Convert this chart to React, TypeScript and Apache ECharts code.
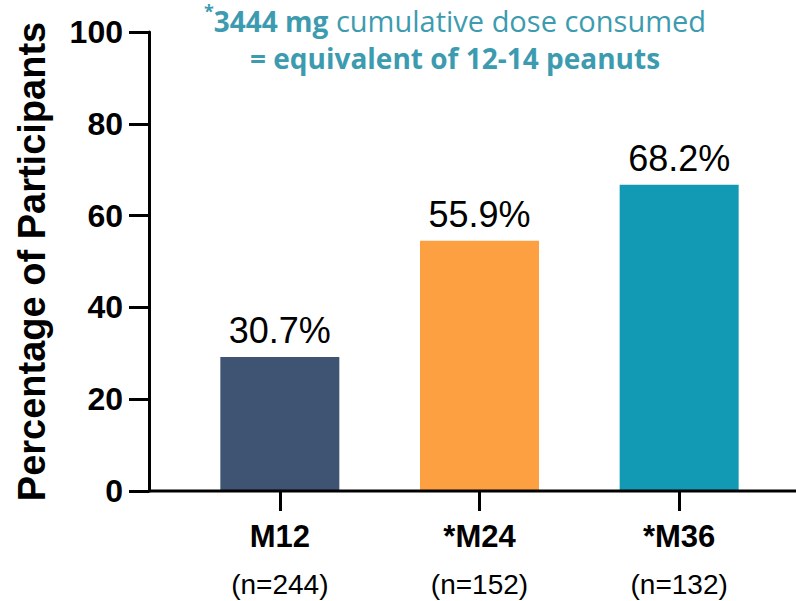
import React, { useEffect, useRef } from "react";
import * as echarts from "echarts";

const categories = ["M12", "*M24", "*M36"];
const sampleSizes = ["(n=244)", "(n=152)", "(n=132)"];
const barValues = [29.2, 54.5, 66.7];
const barLabels = ["30.7%", "55.9%", "68.2%"];
const barColors = ["#3e5472", "#fda042", "#129ab4"];
const yTicks = { min: 0, max: 100, interval: 20 };
const yTitle = "Percentage of Participants";
const titleLine1 = ["*", "3444 mg", " cumulative dose consumed"];
const titleLine2 = "= equivalent of 12-14 peanuts";

export default function App() {
  const ref = useRef<HTMLDivElement>(null);
  useEffect(() => {
    if (!ref.current) return;
    const chart = echarts.init(ref.current, undefined, { renderer: "svg" });
    const teal = "#3d9bb0";
    chart.setOption({
      animation: false,
      backgroundColor: "#ffffff",
      title: {
        left: 450,
        top: -3,
        textAlign: "center",
        text:
          `{s|${titleLine1[0]}}{b|${titleLine1[1]}}{n|${titleLine1[2]}}\n{b|${titleLine2}}`,
        textStyle: {
          rich: {
            s: { fontSize: 18, color: teal, fontFamily: "Open Sans", verticalAlign: "top", lineHeight: 37 },
            b: { fontSize: 28, fontWeight: "bold", color: teal, fontFamily: "Open Sans", lineHeight: 37 },
            n: { fontSize: 29, fontWeight: "normal", color: teal, fontFamily: "Open Sans", lineHeight: 37 },
          },
        },
      },
      grid: { left: 180, right: 17, top: 32, bottom: 110, containLabel: false },
      xAxis: {
        type: "category",
        data: categories,
        axisLine: { show: false },
        axisTick: { show: true, alignWithLabel: true, length: 20, lineStyle: { color: "#000", width: 3 } },
        axisLabel: {
          margin: 20,
          formatter: (v: string, i: number) => `{a|${v}}\n{b|${sampleSizes[i]}}`,
          rich: {
            a: { fontSize: 31, fontWeight: "bold", color: "#000", fontFamily: "Arial, Liberation Sans", lineHeight: 50 },
            b: { fontSize: 28, color: "#000", fontFamily: "Arial, Liberation Sans", lineHeight: 46 },
          },
        },
      },
      yAxis: {
        type: "value",
        min: yTicks.min,
        max: yTicks.max,
        interval: yTicks.interval,
        offset: 31,
        name: yTitle,
        nameLocation: "middle",
        nameGap: 98,
        nameTextStyle: { fontSize: 38, fontWeight: "bold", color: "#000", fontFamily: "Arial, Liberation Sans" },
        axisLine: { show: true, lineStyle: { color: "#000", width: 3 } },
        axisTick: { show: true, length: 20, lineStyle: { color: "#000", width: 3 } },
        axisLabel: { margin: 26, fontSize: 32, fontWeight: "bold", color: "#000", fontFamily: "Arial, Liberation Sans" },
        splitLine: { show: false },
      },
      graphic: [
        {
          type: "line",
          shape: { x1: 148, y1: 491, x2: 796, y2: 491 },
          style: { stroke: "#000", lineWidth: 3 },
          z: 10,
        },
      ],
      series: [
        {
          type: "bar",
          barWidth: 119,
          data: barValues.map((v, i) => ({ value: v, itemStyle: { color: barColors[i] } })),
          label: {
            show: true,
            position: "top",
            distance: 8,
            formatter: (p: any) => barLabels[p.dataIndex],
            fontSize: 36,
            color: "#000",
            fontFamily: "Arial, Liberation Sans",
          },
        },
      ],
    });
    return () => chart.dispose();
  }, []);
  return <div ref={ref} style={{ width: 796, height: 601, position: "absolute", left: 0, top: 0 }} />;
}
